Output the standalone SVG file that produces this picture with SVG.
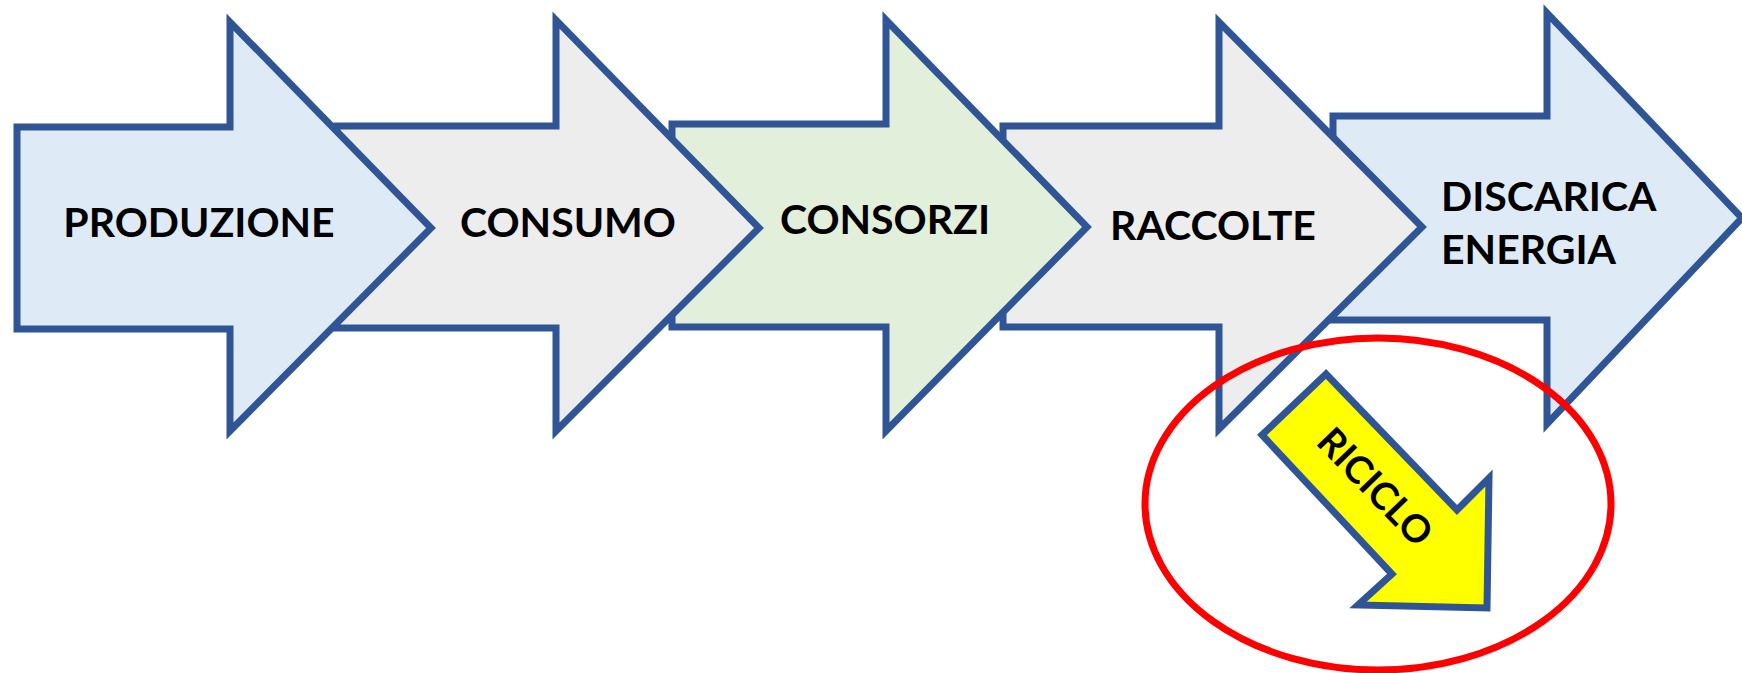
<svg xmlns="http://www.w3.org/2000/svg" width="1742" height="673" viewBox="0 0 1742 673">
<style>
.arr{stroke:#2F5597;stroke-width:7;stroke-linejoin:miter}
.blue{fill:#DEEAF6}
.gray{fill:#EDEDED}
.green{fill:#E2EFDA}
.yellow{fill:#FFFF00}
.lbl{font-family:Lato,"Liberation Sans",sans-serif;font-weight:bold;font-size:41px;fill:#000}
</style>
<rect width="1742" height="673" fill="#FFFFFF"/>
<g id="node-discarica">
<polygon class="arr blue" points="1333,116 1547,116 1547,13 1742,218 1547,424 1547,320 1333,320"/>
<text class="lbl" x="1441" y="211">DISCARICA</text>
<text class="lbl" x="1441" y="264">ENERGIA</text>
</g>
<g id="node-raccolte">
<polygon class="arr gray" points="1003,126 1219,126 1219,22 1422,227 1219,429 1219,327 1003,327"/>
<text class="lbl" x="1213" y="240" text-anchor="middle">RACCOLTE</text>
</g>
<g id="node-consorzi">
<polygon class="arr green" points="672,124 886,124 886,20 1087,227 886,431 886,327 672,327"/>
<text class="lbl" x="885" y="234" text-anchor="middle">CONSORZI</text>
</g>
<g id="node-consumo">
<polygon class="arr gray" points="337,126 556,126 556,20 759,228 556,431 556,328 337,328"/>
<text class="lbl" x="568" y="237" text-anchor="middle">CONSUMO</text>
</g>
<g id="node-produzione">
<polygon class="arr blue" points="17,127 230,127 230,22 431,228 230,431 230,329 17,329"/>
<text class="lbl" x="199" y="237" text-anchor="middle">PRODUZIONE</text>
</g>
<g id="connectors">
<ellipse cx="1378" cy="504" rx="233" ry="166" fill="none" stroke="#FF0000" stroke-width="7"/>
</g>
<g id="node-riciclo">
<polygon class="arr yellow" points="1326,374 1262,435 1392,574 1358,605 1487,608 1489,478 1457,510"/>
<text class="lbl" style="font-size:38px" transform="translate(1375,487) rotate(46)" x="0" y="13" text-anchor="middle">RICICLO</text>
</g>
</svg>
